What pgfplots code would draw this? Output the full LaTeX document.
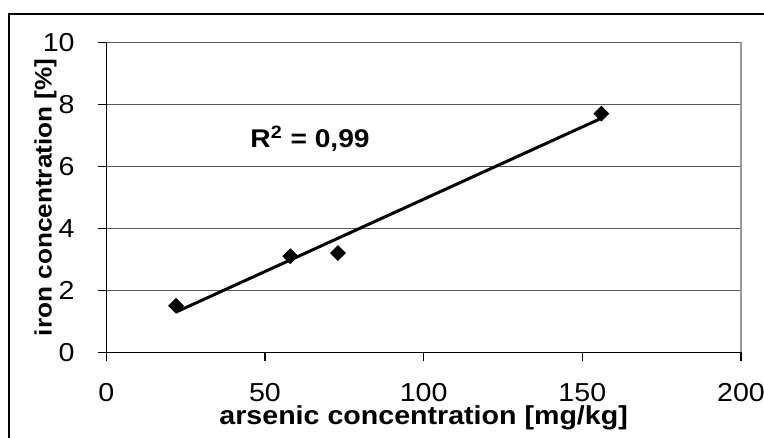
\documentclass[border=0pt]{standalone}
\usepackage{fontspec}
\setmainfont{Liberation Sans}[FakeStretch=1.1]
\usepackage{pgfplots}
\pgfplotsset{compat=1.18}

\begin{document}
\begin{tikzpicture}
\useasboundingbox (0,0) rectangle (382pt,219pt);
% outer frame (only top and left edges are visible)
\draw[line width=0.9pt] (4.3pt,0) -- (4.3pt,212pt) -- (382pt,212pt);

\begin{axis}[
  at={(53.15pt,42.85pt)}, anchor=south west,
  scale only axis,
  width=317.35pt, height=155pt,
  xmin=0, xmax=200, ymin=0, ymax=10,
  xtick={0,50,100,150,200},
  ytick={0,2,4,6,8,10},
  axis x line*=bottom, axis y line*=left,
  axis line style={black, line width=0.6pt},
  tick align=outside,
  major tick length=4.3pt,
  tick style={black, line width=0.6pt},
  ymajorgrids=true,
  grid style={black!65, line width=0.6pt},
  /pgf/number format/assume math mode=true,
  tick label style={font=\fontsize{13}{15}\selectfont},
  yticklabel style={xshift=-8pt},
  xticklabel style={yshift=-10.3pt, inner sep=0.5pt},
  xlabel={arsenic concentration [mg/kg]},
  xlabel style={at={(axis description cs:0.5,-0.232)}, anchor=base,
    inner sep=0.5pt, font=\fontsize{13}{15}\selectfont\bfseries},
  ylabel={iron concentration [\%]},
  ylabel style={at={(axis description cs:-0.086,0.5)}, anchor=base,
    inner sep=1pt, font=\fontsize{11.9}{15}\selectfont\bfseries},
  clip=false,
]
% right border of the plot area
\draw[black!40, line width=0.8pt] (axis cs:200,0) -- (axis cs:200,10);

% linear trend line
\addplot[black, line width=1.5pt] coordinates {(22,1.30) (156,7.55)};

% measured points
\addplot[only marks, mark=square*, mark size=2.6pt,
  mark options={rotate=45, fill=black, draw=black}]
  coordinates {(22,1.5) (58,3.1) (73,3.2) (156,7.7)};

\node[anchor=base, font=\fontsize{12.8}{15}\selectfont\bfseries]
  at (axis cs:64.2,6.61) {R\textsuperscript{2} = 0,99};
\end{axis}
\end{tikzpicture}
\end{document}
